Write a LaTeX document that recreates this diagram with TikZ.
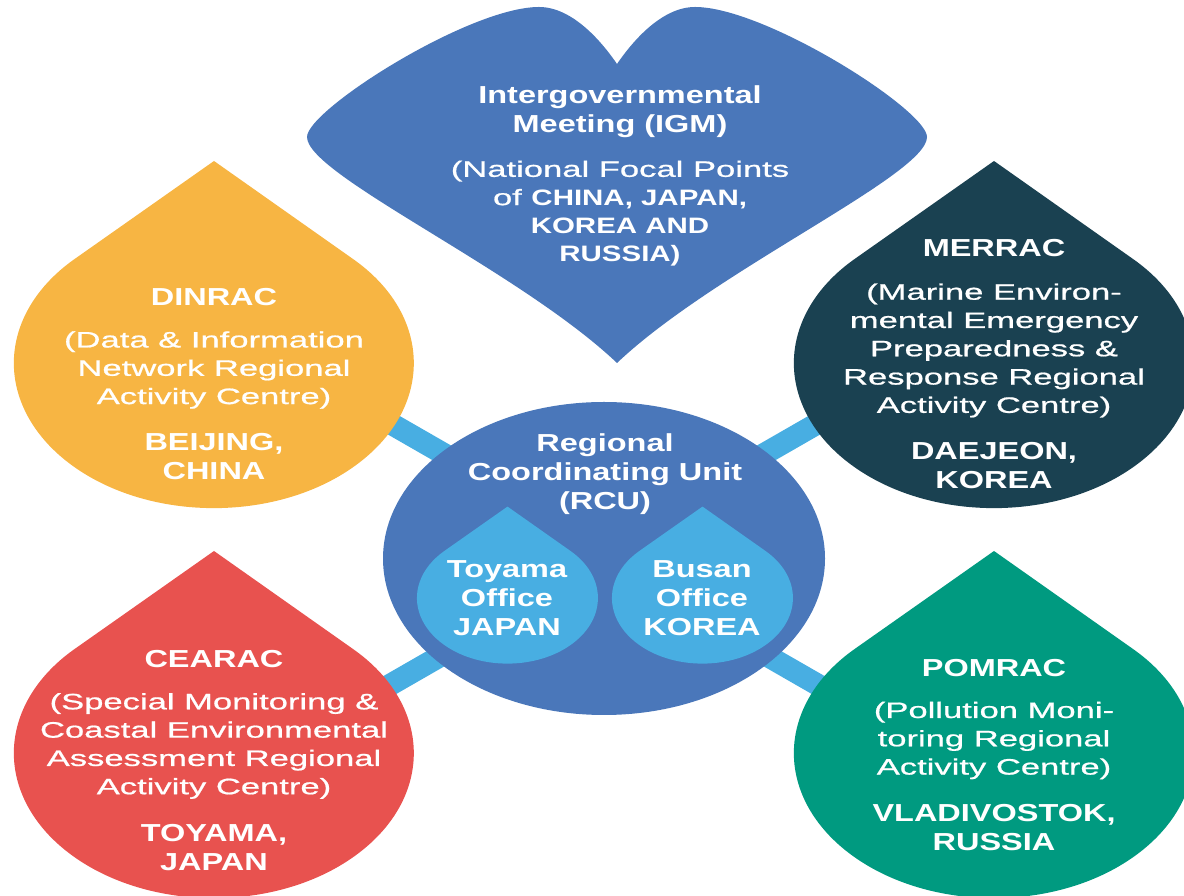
\documentclass[tikz,border=0pt]{standalone}
\usepackage{fontspec}
\setmainfont{Liberation Sans}[FakeStretch=1.55, FakeBold=0.8]
\newfontfamily\titlefont{Liberation Sans}[FakeStretch=1.32]
\newcommand{\bd}{\titlefont\bfseries}
\definecolor{igmblue}{HTML}{4A77BA}
\definecolor{officeblue}{HTML}{48AEE2}
\definecolor{dinrac}{HTML}{F7B543}
\definecolor{merrac}{HTML}{1A4151}
\definecolor{cearac}{HTML}{E8524F}
\definecolor{pomrac}{HTML}{009A80}
\tikzset{
  linkbar/.style={draw=officeblue, line width=12.5pt},
  headtext/.style={text=white, inner sep=0pt, align=center, font=\titlefont\bfseries\fontsize{14}{16.5}\selectfont},
  desc/.style={text=white, inner sep=0pt, align=center, font=\fontsize{12.7}{16.1}\selectfont},
}

\begin{document}
\begin{tikzpicture}[x=2cm,y=2cm]
        % Canvas
        \useasboundingbox (0,0) rectangle (11.84,8.95);
        \clip (0,0) rectangle (11.84,8.95);

        % Bars from the centres to the RCU
        \coordinate (hubDIN) at (2.14,5.73);
        \coordinate (hubMER) at (9.94,5.73);
        \coordinate (hubCEA) at (2.14,1.09);
        \coordinate (hubPOM) at (9.94,1.09);
        \coordinate (rcuUp) at (6.04,3.49);
        \coordinate (rcuLow) at (6.04,3.33);
        \draw[linkbar] (hubDIN) -- (rcuUp);
        \draw[linkbar] (hubMER) -- (rcuUp);
        \draw[linkbar] (hubCEA) -- (rcuLow);
        \draw[linkbar] (hubPOM) -- (rcuLow);

        % Drops of the four centres
        \fill[dinrac] (2.14,7.34) -- (3.53,6.36) arc[start angle=45.9, end angle=-225.9, x radius=2, y radius=1.45] -- cycle;
        \fill[merrac] (9.94,7.34) -- (11.33,6.36) arc[start angle=45.9, end angle=-225.9, x radius=2, y radius=1.45] -- cycle;
        \fill[cearac] (2.14,3.44) -- (3.53,2.46) arc[start angle=45.9, end angle=-225.9, x radius=2, y radius=1.45] -- cycle;
        \fill[pomrac] (9.94,3.44) -- (11.33,2.46) arc[start angle=45.9, end angle=-225.9, x radius=2, y radius=1.45] -- cycle;

        % IGM leaf
        \fill[igmblue] (6.17,5.32) .. controls (5.19,6.25) and (3.07,7.20) .. (3.07,7.58)
            .. controls (3.07,7.85) and (4.69,8.88) .. (5.39,8.88)
            .. controls (5.74,8.88) and (6.04,8.50) .. (6.17,8.31)
            .. controls (6.30,8.50) and (6.60,8.88) .. (6.95,8.88)
            .. controls (7.65,8.88) and (9.27,7.85) .. (9.27,7.58)
            .. controls (9.27,7.20) and (7.15,6.25) .. (6.17,5.32) -- cycle;

        % RCU ellipse and its two offices
        \fill[igmblue] (6.04,3.365) ellipse [x radius=2.21, y radius=1.565];
        \fill[officeblue] (5.075,3.884) -- (5.704,3.441) arc[start angle=45.9, end angle=-225.9, x radius=0.905, y radius=0.656] -- cycle;
        \fill[officeblue] (7.025,3.884) -- (7.654,3.441) arc[start angle=45.9, end angle=-225.9, x radius=0.905, y radius=0.656] -- cycle;

        % IGM labels
        \node[headtext] (igmT) at (6.20,7.83) {Intergovernmental\\Meeting (IGM)};
        \node[desc] (igmD) at (6.20,6.815) {(National Focal Points\\of {\bd CHINA, JAPAN,}\\{\bd KOREA AND}\\{\bd RUSSIA)}};

        % RCU labels
        \node[headtext] (rcuT) at (6.05,4.205) {Regional\\Coordinating Unit\\(RCU)};
        \node[headtext] (toyamaT) at (5.07,2.97) {Toyama\\Office\\JAPAN};
        \node[headtext] (busanT) at (7.02,2.97) {Busan\\Office\\KOREA};

        % DINRAC labels
        \node[headtext] (dinracT) at (2.14,5.98) {DINRAC};
        \node[desc] (dinracD) at (2.14,5.25) {(Data \& Information\\Network Regional\\Activity Centre)};
        \node[headtext] (dinracL) at (2.14,4.385) {BEIJING,\\CHINA};

        % MERRAC labels
        \node[headtext] (merracT) at (9.94,6.47) {MERRAC};
        \node[desc] (merracD) at (9.94,5.445) {(Marine Environ-\\mental Emergency\\Preparedness \&\\Response Regional\\Activity Centre)};
        \node[headtext] (merracL) at (9.94,4.29) {DAEJEON,\\KOREA};

        % CEARAC labels
        \node[headtext] (cearacT) at (2.14,2.36) {CEARAC};
        \node[desc] (cearacD) at (2.14,1.49) {(Special Monitoring \&\\Coastal Environmental\\Assessment Regional\\Activity Centre)};
        \node[headtext] (cearacL) at (2.14,0.475) {TOYAMA,\\JAPAN};

        % POMRAC labels
        \node[headtext] (pomracT) at (9.94,2.27) {POMRAC};
        \node[desc] (pomracD) at (9.94,1.545) {(Pollution Moni-\\toring Regional\\Activity Centre)};
        \node[headtext] (pomracL) at (9.94,0.675) {VLADIVOSTOK,\\RUSSIA};

\end{tikzpicture}
\end{document}
